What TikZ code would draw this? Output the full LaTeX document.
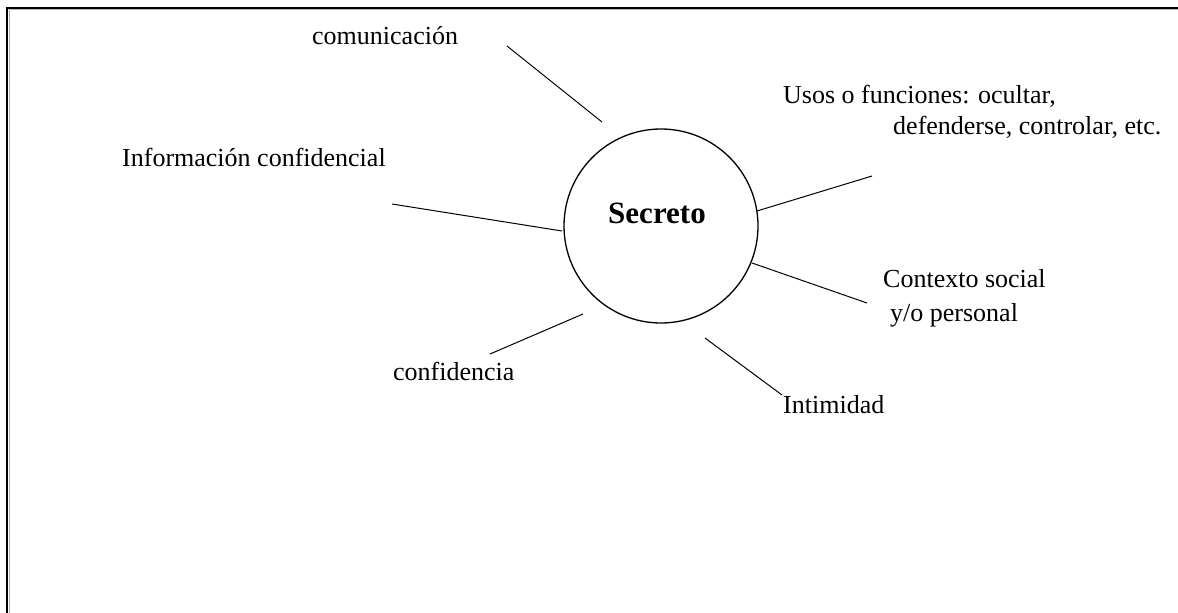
\documentclass[tikz,border=0pt]{standalone}
\usepackage{fontspec}
\setmainfont{Liberation Serif}
\begin{document}
\begin{tikzpicture}[x=1pt,y=-1pt,
  lbl/.style={anchor=base west,inner sep=0pt,font=\fontsize{26}{32}\selectfont,align=left},
  spoke/.style={line width=1pt,black},
  hub/.style={circle,draw,line width=1.3pt,minimum size=194pt,inner sep=0pt}]
\useasboundingbox (0,0) rectangle (1178,613);
% frame
\draw[line width=2pt] (6.5,613) -- (6.5,7.5) -- (1178,7.5);
\draw[line width=1pt,gray!60] (9,613) -- (9,9.5) -- (1178,9.5);
% hub
\node[hub] (sec) at (661,226) {};
\node[anchor=base,inner sep=0pt,font=\fontsize{31}{36}\selectfont\bfseries] (sectxt) at (657,223) {Secreto};
% labels
\node[lbl] (com) at (312,44) {comunicación};
\node[lbl] (info) at (122,166) {Información confidencial};
\node[lbl] (conf) at (393,380) {confidencia};
\node[lbl] (inti) at (783,413) {Intimidad};
% multi-line nodes: base anchor sits on the last line's baseline
\node[lbl,font=\fontsize{26}{34}\selectfont] (ctx) at (883,321) {Contexto social\\\hspace*{7pt}y/o personal};
\node[lbl,font=\fontsize{26}{31}\selectfont] (usos) at (783,134) {Usos o funciones: ocultar,\\\hspace*{110pt}defenderse, controlar, etc.};
% spoke ends
\coordinate (com1) at (507,46);   \coordinate (com2) at (602,122);
\coordinate (info1) at (392,204); \coordinate (info2) at (562,231);
\coordinate (conf1) at (490,354); \coordinate (conf2) at (583,314);
\coordinate (inti1) at (705,338); \coordinate (inti2) at (782,395);
\coordinate (ctx1) at (752,263);  \coordinate (ctx2) at (867,303);
\coordinate (usos1) at (757,211); \coordinate (usos2) at (872,176);
\draw[spoke] (com1) -- (com2);
\draw[spoke] (info1) -- (info2);
\draw[spoke] (conf1) -- (conf2);
\draw[spoke] (inti1) -- (inti2);
\draw[spoke] (ctx1) -- (ctx2);
\draw[spoke] (usos1) -- (usos2);
\end{tikzpicture}
\end{document}
